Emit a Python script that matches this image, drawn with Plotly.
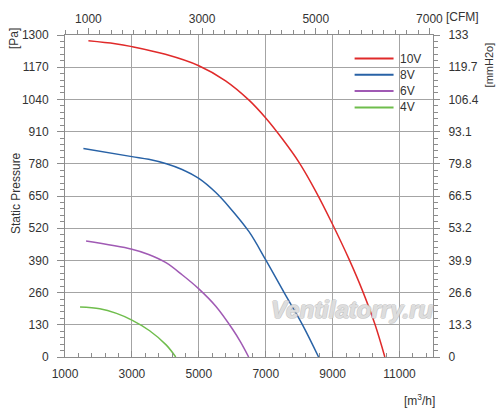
import plotly.graph_objects as go

# fan curves, flow in m3/h, static pressure in Pa
flow_10v = [1700, 2500, 3000, 4000, 5000, 5800, 6500, 7000, 7500, 8000, 8500, 9000, 9500, 9900, 10270, 10560]
pres_10v = [1277, 1265, 1253, 1222, 1176, 1115, 1037, 965, 880, 785, 668, 535, 392, 265, 130, 0]

flow_8v = [1550, 3000, 3500, 4030, 4500, 5000, 5500, 5900, 6500, 7000, 7550, 8100, 8580]
pres_8v = [842, 809, 798, 780, 757, 721, 665, 607, 506, 392, 260, 130, 0]

flow_6v = [1630, 3000, 3500, 4030, 4500, 5000, 5520, 6010, 6250, 6490]
pres_6v = [468, 435, 414, 380, 332, 275, 203, 112, 60, 0]

flow_4v = [1450, 2040, 2540, 3000, 3530, 4030, 4310]
pres_4v = [202, 195, 176, 149, 106, 48, 0]

x_ticks = [1000, 3000, 5000, 7000, 9000, 11000]
cfm_ticks = [1000, 3000, 5000, 7000]
pa_ticks = [0, 130, 260, 390, 520, 650, 780, 910, 1040, 1170, 1300]
mm_ticks = [0, 13.3, 26.6, 39.9, 53.2, 66.5, 79.8, 93.1, 106.4, 119.7, 133]
mm_labels = ["0", "13.3", "26.6", "39.9", "53.2", "66.5", "79.8", "93.1", "106.4", "119.7", "133"]

M3H_PER_CFM = 1.699
FONT = "Liberation Sans, Arial, sans-serif"
GRID = "#a4a4a4"
AXIS = "#8c8c8c"
TXT = "#333333"

# plot area in pixels
L, R, T, B = 65, 433.5, 35, 357
W, H = R - L, B - T


def px_x(p):
    return (p - L) / W


def px_y(p):
    return (B - p) / H


fig = go.Figure()

curves = [
    ("10V", flow_10v, pres_10v, "#e02a2a"),
    ("8V", flow_8v, pres_8v, "#2862a6"),
    ("6V", flow_6v, pres_6v, "#a05ab4"),
    ("4V", flow_4v, pres_4v, "#6fbd4c"),
]
for name, fx, fy, col in curves:
    fig.add_trace(go.Scatter(
        x=fx, y=fy, name=name, mode="lines", showlegend=False,
        line=dict(color=col, width=1.5, shape="spline", smoothing=1.0),
    ))

# empty trace so the secondary axes get drawn
fig.add_trace(go.Scatter(x=[], y=[], xaxis="x2", yaxis="y2", showlegend=False, hoverinfo="skip"))

# white patch behind the legend (hides grid there)
fig.add_shape(type="rect", xref="paper", yref="paper",
              x0=px_x(360), x1=1, y0=px_y(131), y1=1,
              fillcolor="white", line=dict(width=0), layer="between")

# legend drawn by hand for the tighter row spacing
for i, (name, fx, fy, col) in enumerate(curves):
    ly = 58.5 + i * 16.3
    fig.add_shape(type="line", xref="paper", yref="paper",
                  x0=px_x(355), x1=px_x(394), y0=px_y(ly), y1=px_y(ly),
                  line=dict(color=col, width=2))
    fig.add_annotation(text=name, xref="paper", yref="paper", x=px_x(398), y=px_y(ly),
                       showarrow=False, xanchor="left", yanchor="middle",
                       font=dict(size=12, color=TXT, family=FONT))

fig.update_layout(
    width=500, height=420,
    margin=dict(l=L, r=500 - R, t=T, b=420 - B),
    paper_bgcolor="white", plot_bgcolor="white",
    font=dict(family=FONT, size=12, color=TXT),
    showlegend=False,
    xaxis=dict(
        range=[1000, 12000], tickmode="array", tickvals=x_ticks,
        ticktext=[str(v) for v in x_ticks],
        showgrid=True, gridcolor=GRID, gridwidth=1, zeroline=False,
        showline=True, linecolor=AXIS, linewidth=1,
        ticks="inside", ticklen=6, tickcolor=AXIS, ticklabelstandoff=6,
        minor=dict(dtick=400, tick0=1000, ticks="inside", ticklen=4, tickcolor=AXIS, showgrid=False),
    ),
    xaxis2=dict(
        overlaying="x", side="top",
        range=[1000 / M3H_PER_CFM, 12000 / M3H_PER_CFM],
        tickmode="array", tickvals=cfm_ticks, ticktext=[str(v) for v in cfm_ticks],
        showgrid=False, zeroline=False,
        showline=True, linecolor=AXIS, linewidth=1,
        ticks="outside", ticklen=6, tickcolor=AXIS,
        minor=dict(dtick=200, tick0=0, ticks="outside", ticklen=4, tickcolor=AXIS, showgrid=False),
    ),
    yaxis=dict(
        range=[0, 1300], tickmode="array", tickvals=pa_ticks,
        ticktext=[str(v) for v in pa_ticks],
        showgrid=True, gridcolor=GRID, gridwidth=1, zeroline=False,
        showline=True, linecolor=AXIS, linewidth=1,
        ticks="outside", ticklen=7, tickcolor=AXIS, ticklabelstandoff=6,
        minor=dict(dtick=26, tick0=0, ticks="outside", ticklen=4, tickcolor=AXIS, showgrid=False),
    ),
    yaxis2=dict(
        overlaying="y", side="right", range=[0, 133],
        tickmode="array", tickvals=mm_ticks, ticktext=mm_labels,
        showgrid=False, zeroline=False,
        showline=True, linecolor=AXIS, linewidth=1,
        ticks="outside", ticklen=6, tickcolor=AXIS, ticklabelstandoff=6,
        minor=dict(dtick=2.66, tick0=0, ticks="outside", ticklen=4, tickcolor=AXIS, showgrid=False),
    ),
)

annots = [
    dict(text="[Pa]", x=14, y=39, textangle=-90, size=12),
    dict(text="Static Pressure", x=16, y=193, textangle=-90, size=12),
    dict(text="[mmH2o]", x=490, y=65, textangle=-90, size=11),
    dict(text="[CFM]", x=463, y=17, textangle=0, size=12),
    dict(text="[m<sup>3</sup>/h]", x=420, y=400, textangle=0, size=12),
]
for a in annots:
    fig.add_annotation(text=a["text"], xref="paper", yref="paper",
                       x=px_x(a["x"]), y=px_y(a["y"]), showarrow=False,
                       textangle=a["textangle"], font=dict(size=a["size"], color=TXT, family=FONT),
                       xanchor="center", yanchor="middle")

outline = "#b4b4b4"
fig.add_annotation(
    text="Ventilatorry.ru", xref="paper", yref="paper",
    x=px_x(353), y=px_y(309), showarrow=False, xanchor="center", yanchor="middle",
    font=dict(family=FONT, size=24, color="rgba(255,255,255,0.55)", style="italic", weight="bold",
              shadow=f"1px 0 0 {outline}, -1px 0 0 {outline}, 0 1px 0 {outline}, 0 -1px 0 {outline}"),
)

# drop the default 8px page margin so the figure sits at the window corner
fig.write_html("out.html", config={"displayModeBar": False},
               post_script="document.body.style.margin='0px';")
